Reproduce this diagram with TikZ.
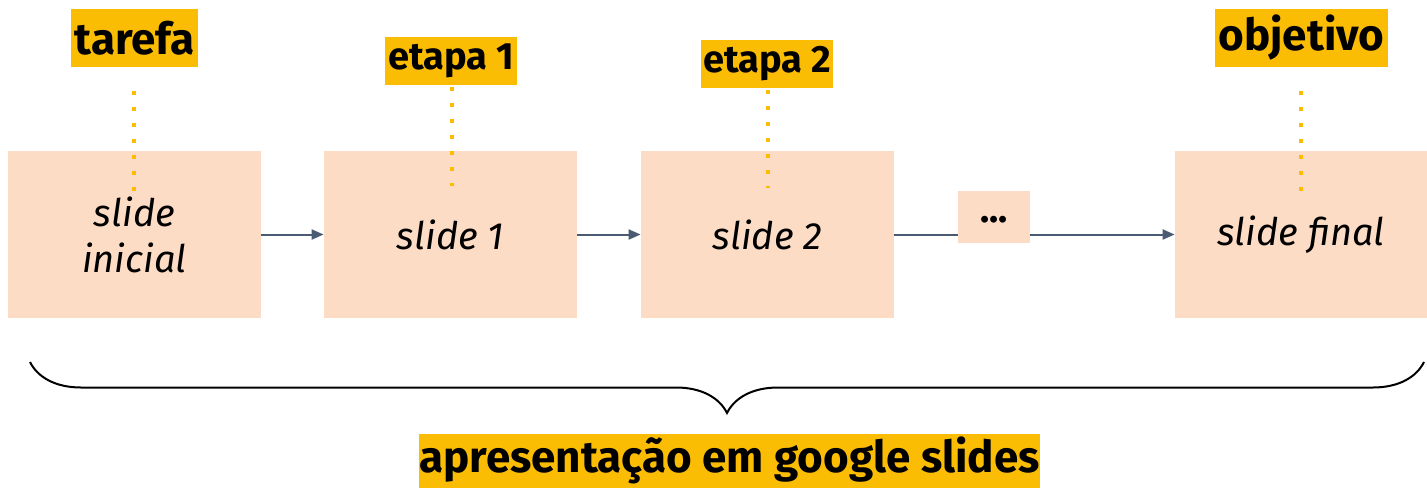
\documentclass[tikz,border=0pt]{standalone}
\usepackage{fontspec}
\setmainfont{Fira Sans}
\usetikzlibrary{decorations.pathreplacing,arrows.meta}
\definecolor{peach}{HTML}{FCDCC5}
\definecolor{gold}{HTML}{FBBC04}
\definecolor{arrowc}{HTML}{4A5A72}
\begin{document}
\begin{tikzpicture}[x=0.5pt,y=-0.5pt,
  slidebox/.style={fill=peach,draw=none,minimum width=126.5pt,minimum height=83.5pt,inner sep=0pt,align=center,font=\fontsize{19}{23}\selectfont\itshape},
  tag/.style={fill=gold,inner sep=0pt,font=\bfseries},
  link/.style={draw=arrowc,line width=1pt},
  tip/.style={-{Triangle[length=6pt,width=5pt]}},
  dotline/.style={draw=gold,line width=2pt,dash pattern=on 2pt off 6pt}]
\useasboundingbox (0,0) rectangle (1427,487);
% slides
\node[slidebox] (s0) at (134.5,234.5) {slide\\inicial};
\node[slidebox] (s1) at (450.5,234.5) {slide 1};
\node[slidebox] (s2) at (767.5,234.5) {slide 2};
\node[slidebox,minimum width=36pt,minimum height=26pt,font=\bfseries\fontsize{19}{23}\selectfont] (dots) at (994,217) {\raisebox{-6pt}{...}};
\node[slidebox,minimum width=126pt] (sf) at (1301,234.5) {\raisebox{-2pt}{slide final}};
% connectors
\draw[link,tip] (s0.east) -- (s1.west);
\draw[link,tip] (s1.east) -- (s2.west);
\draw[link] (s2.east) -- (s2.east -| dots.west);
\draw[link,tip] (s1.east -| dots.east) -- (sf.west);
% tags
\node[tag,minimum width=63.5pt,minimum height=29pt,font=\bfseries\fontsize{22}{26}\selectfont] (t0) at (134.5,38) {tarefa};
\node[tag,minimum width=66pt,minimum height=24pt,font=\bfseries\fontsize{19}{23}\selectfont] (t1) at (451,61) {etapa 1};
\node[tag,minimum width=66pt,minimum height=24pt,font=\bfseries\fontsize{19}{23}\selectfont] (t2) at (767,64) {etapa 2};
\node[tag,minimum width=86.5pt,minimum height=29pt,font=\bfseries\fontsize{22}{26}\selectfont] (tf) at (1301.5,38) {objetivo};
\node[tag,minimum width=308.5pt,minimum height=27pt,font=\bfseries\fontsize{22}{26}\selectfont] (pres) at (729.5,460.5) {apresentação em google slides};
% dotted leaders
\coordinate (d0a) at (134,91); \coordinate (d0b) at (134,192);
\coordinate (d1a) at (452,87); \coordinate (d1b) at (452,186);
\coordinate (d2a) at (768,90); \coordinate (d2b) at (768,188);
\coordinate (dfa) at (1301,91); \coordinate (dfb) at (1301,192);
\draw[dotline] (d0a) -- (d0b);
\draw[dotline] (d1a) -- (d1b);
\draw[dotline] (d2a) -- (d2b);
\draw[dotline] (dfa) -- (dfb);
% brace
\coordinate (bl) at (30,362); \coordinate (br) at (1424,362);
\draw[line width=1pt,decorate,decoration={brace,mirror,amplitude=25.5pt}] (bl) -- (br);
\end{tikzpicture}
\end{document}
